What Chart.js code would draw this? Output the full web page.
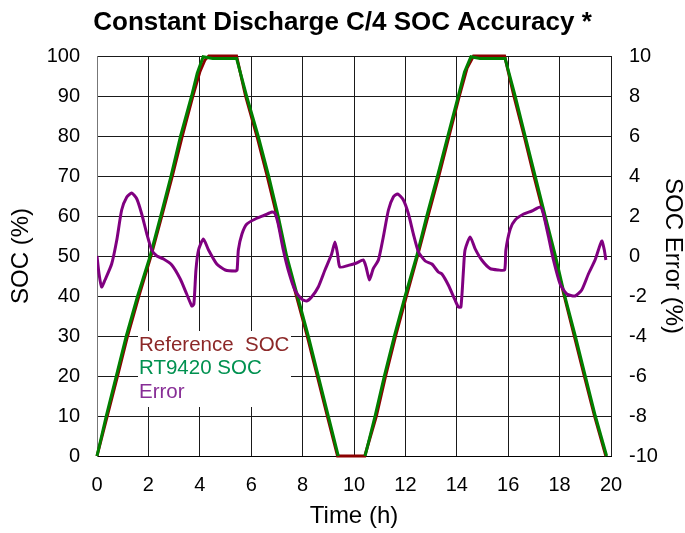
<!DOCTYPE html>
<html lang="en">
  <head>
    <meta charset="UTF-8" />
    <title>Constant Discharge C/4 SOC Accuracy</title>
    <script src="https://cdn.jsdelivr.net/npm/chart.js"></script>
    <style>
      body {
        margin: 0;
        background: #fff;
      }
      #wrap {
        width: 685px;
        height: 533px;
      }
    </style>
  </head>
  <body>
    <div id="wrap">
      <canvas id="socChart"></canvas>
    </div>

    <script>
      // valores (tempo em horas)
      const refTime = [0, 0.4, 0.8, 1.19, 1.63, 2.1, 2.52, 2.93, 3.32, 3.73, 4.0, 4.2, 4.35, 5.43, 5.78, 6.22, 6.62, 7.0, 7.34, 7.76, 8.18, 8.57, 8.96, 9.36, 10.42, 10.87, 11.23, 11.62, 12.04, 12.47, 12.88, 13.3, 13.7, 14.1, 14.4, 14.65, 15.86, 16.22, 16.62, 17.0, 17.4, 17.8, 18.18, 18.57, 18.96, 19.36, 19.8]
      const refSoc = [0, 10, 20, 30, 40, 50, 60, 70, 80, 90, 96, 99, 100, 100, 90, 80, 70, 60, 50, 40, 30, 20, 10, 0, 0, 10, 20, 30, 40, 50, 60, 70, 80, 90, 97, 100, 100, 90, 80, 70, 60, 50, 40, 30, 20, 10, 0]

      // null = trecho sem dado (RT9420 parado em 0%)
      const rtTime = [0, 0.36, 0.75, 1.14, 1.58, 2.07, 2.48, 2.88, 3.25, 3.68, 3.9, 4.13, 4.5, 5.43, 5.82, 6.27, 6.68, 7.05, 7.38, 7.8, 8.22, 8.61, 9.0, 9.39, 9.9, 10.43, 10.82, 11.18, 11.57, 11.99, 12.44, 12.83, 13.25, 13.65, 14.06, 14.3, 14.55, 14.9, 15.88, 16.27, 16.66, 17.05, 17.44, 17.84, 18.2, 18.61, 19.0, 19.39, 19.83]
      const rtSoc = [0, 10, 20, 30, 40, 50, 60, 70, 80, 90, 95.7, 99.8, 99.4, 99.4, 90, 80, 70, 60, 50, 40, 30, 20, 10, 0, null, 0, 10, 20, 30, 40, 50, 60, 70, 80, 90, 96, 99.8, 99.4, 99.4, 90, 80, 70, 60, 50, 40, 30, 20, 10, 0]

      const errTime = [0, 0.08, 0.18, 0.31, 0.57, 0.77, 0.96, 1.16, 1.35, 1.55, 1.74, 1.94, 2.13, 2.33, 2.59, 2.91, 3.24, 3.49, 3.69, 3.77, 3.85, 3.95, 4.14, 4.34, 4.66, 4.99, 5.38, 5.45, 5.5, 5.64, 5.83, 6.16, 6.54, 6.81, 6.92, 7.05, 7.25, 7.44, 7.7, 7.96, 8.16, 8.35, 8.61, 8.87, 9.13, 9.26, 9.36, 9.45, 9.78, 10.1, 10.36, 10.47, 10.6, 10.75, 10.95, 11.14, 11.34, 11.53, 11.7, 11.92, 12.12, 12.31, 12.51, 12.77, 13.03, 13.28, 13.42, 13.67, 13.93, 14.06, 14.16, 14.26, 14.32, 14.52, 14.71, 14.97, 15.3, 15.62, 15.86, 15.91, 16.08, 16.27, 16.6, 16.92, 17.25, 17.37, 17.57, 17.76, 18.02, 18.28, 18.6, 18.86, 19.12, 19.38, 19.64, 19.74, 19.8]
      const errVal = [0, -0.9, -1.55, -1.2, -0.4, 0.8, 2.3, 2.95, 3.15, 2.85, 2.1, 1.1, 0.3, 0, -0.15, -0.45, -1.15, -1.9, -2.5, -2.4, -0.7, 0.3, 0.85, 0.3, -0.4, -0.7, -0.75, -0.7, 0.3, 1.1, 1.6, 1.85, 2.05, 2.2, 2.15, 1.6, 0.3, -0.7, -1.7, -2.15, -2.25, -2.05, -1.55, -0.7, 0.1, 0.7, 0.1, -0.55, -0.47, -0.35, -0.2, -0.55, -1.2, -0.63, -0.2, 0.95, 2.3, 2.95, 3.1, 2.8, 2.1, 1.1, 0.2, -0.25, -0.4, -0.8, -0.9, -1.45, -2.2, -2.55, -2.55, -0.7, 0.3, 0.95, 0.37, -0.2, -0.63, -0.7, -0.7, 0.3, 1.35, 1.8, 2.1, 2.25, 2.45, 2.1, 0.95, -0.2, -1.4, -1.9, -2.0, -1.7, -0.9, -0.2, 0.75, 0.3, -0.2]

      const legendLabels = ['Reference  SOC', 'RT9420 SOC', 'Error']
      const legendColors = ['rgb(140, 40, 40)', 'rgb(0, 145, 80)', 'rgb(135, 45, 150)']

      const fonte = '"Liberation Sans", Arial, sans-serif'

      function pontos(xs, ys) {
        return xs.map((x, i) => ({ x: x, y: ys[i] }))
      }

      // legenda dentro da área do gráfico, com fundo branco
      const legendaCaixa = {
        id: 'legendaCaixa',
        beforeDatasetsDraw(chart) {
          const ctx = chart.ctx
          ctx.save()
          ctx.fillStyle = '#fff'
          ctx.fillRect(138, 331, 153, 76)
          ctx.font = '20.5px ' + fonte
          ctx.textBaseline = 'alphabetic'
          for (let i = 0; i < legendLabels.length; i++) {
            ctx.fillStyle = legendColors[i]
            ctx.fillText(legendLabels[i], 139, 350.5 + i * 23.5)
          }
          ctx.restore()
        }
      }

      const config = {
        type: 'line',
        data: {
          datasets: [
            {
              label: 'Reference SOC',
              data: pontos(refTime, refSoc),
              borderColor: 'rgb(139, 0, 0)',
              borderWidth: 3,
              pointRadius: 0,
              yAxisID: 'y',
              order: 2,
              clip: 4
            },
            {
              label: 'RT9420 SOC',
              data: pontos(rtTime, rtSoc),
              borderColor: 'rgb(0, 128, 0)',
              borderWidth: 3,
              pointRadius: 0,
              spanGaps: false,
              yAxisID: 'y',
              order: 1,
              clip: 4
            },
            {
              label: 'Error',
              data: pontos(errTime, errVal),
              borderColor: 'rgb(128, 0, 128)',
              borderWidth: 3,
              pointRadius: 0,
              tension: 0.2,
              yAxisID: 'y2',
              order: 0
            }
          ]
        },
        options: {
          responsive: true,
          maintainAspectRatio: false,
          animation: false,
          layout: { padding: 0, autoPadding: false },
          plugins: {
            legend: { display: false },
            tooltip: { enabled: false },
            title: {
              display: true,
              text: 'Constant Discharge C/4 SOC Accuracy *',
              color: '#000',
              font: { family: fonte, size: 26, weight: 'bold', lineHeight: 1.2 },
              padding: { top: 7, bottom: 17.8 }
            }
          },
          scales: {
            x: {
              type: 'linear',
              min: 0,
              max: 20,
              ticks: {
                stepSize: 2,
                color: '#000',
                padding: 17,
                font: { family: fonte, size: 20 }
              },
              grid: { color: '#1a1a1a', drawTicks: false },
              border: { color: '#000' },
              title: {
                display: true,
                text: 'Time (h)',
                color: '#000',
                font: { family: fonte, size: 24, lineHeight: 1 },
                padding: { top: 0, bottom: 5 }
              },
              afterFit: (s) => {
                s.height = 77
              }
            },
            y: {
              position: 'left',
              min: 0,
              max: 100,
              ticks: {
                stepSize: 10,
                color: '#000',
                padding: 17,
                font: { family: fonte, size: 20 }
              },
              grid: { color: '#1a1a1a', drawTicks: false },
              border: { color: '#777' },
              title: {
                display: true,
                text: 'SOC (%)',
                color: '#000',
                font: { family: fonte, size: 24, lineHeight: 1 },
                padding: { top: 9, bottom: 0 }
              },
              afterFit: (s) => {
                s.width = 97
              }
            },
            y2: {
              position: 'right',
              min: -10,
              max: 10,
              ticks: {
                stepSize: 2,
                color: '#000',
                padding: 18,
                font: { family: fonte, size: 20 }
              },
              grid: { display: false, drawTicks: false },
              border: { display: false },
              title: {
                display: true,
                text: 'SOC Error (%)',
                color: '#000',
                font: { family: fonte, size: 24, lineHeight: 1 },
                padding: { top: 0, bottom: 0 }
              },
              afterFit: (s) => {
                s.width = 74
              }
            }
          }
        },
        plugins: [legendaCaixa]
      }

      new Chart(document.getElementById('socChart'), config)
    </script>
  </body>
</html>
